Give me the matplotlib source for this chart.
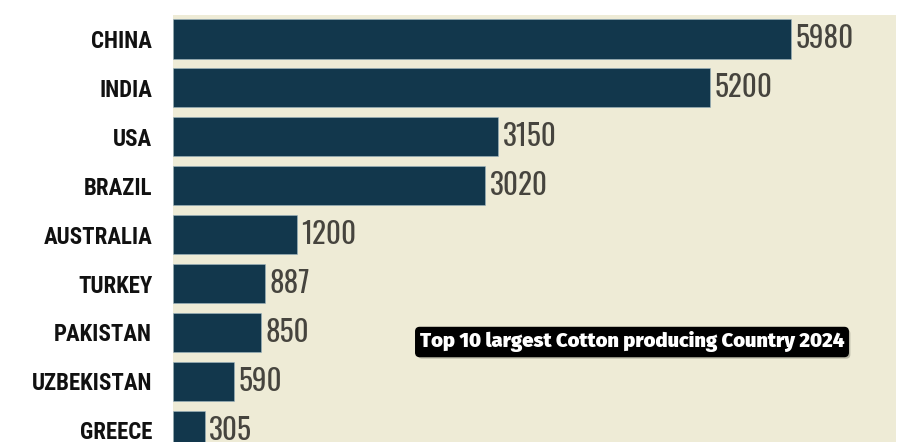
import matplotlib
matplotlib.use("Agg")
import matplotlib.pyplot as plt
from matplotlib import font_manager
import matplotlib.patheffects as pe

# data (10th country is cut off in the reference)
countries = ["CHINA", "INDIA", "USA", "BRAZIL", "AUSTRALIA", "TURKEY",
             "PAKISTAN", "UZBEKISTAN", "GREECE"]
production = [5980, 5200, 3150, 3020, 1200, 887, 850, 590, 305]
title = "Top 10 largest Cotton producing Country 2024"

bar_color = "#12374c"
bg_color = "#eeebd6"

names = {f.name for f in font_manager.fontManager.ttflist}


def pick(*fams):
    for f in fams:
        if f in names:
            return f
    return "DejaVu Sans"


label_font = pick("Roboto Condensed", "Archivo Narrow", "IBM Plex Sans Condensed", "Open Sans Condensed")
value_font = pick("Oswald", "Roboto Condensed", "IBM Plex Sans Condensed")
title_font = pick("Fira Sans", "Lato")

fig = plt.figure(figsize=(9, 4.42), dpi=100)
fig.patch.set_facecolor("white")
ax = fig.add_axes([173 / 900, 0, (896 - 173) / 900, (442 - 15) / 442])
ax.set_facecolor(bg_color)

ypos = list(range(len(countries)))
ax.barh(ypos, production, height=0.8, color=bar_color, edgecolor="#9fb7c2", linewidth=0.4)

for y, v in zip(ypos, production):
    ax.text(v + 45, y, str(v), va="center", ha="left", fontsize=21,
            family=value_font, color="#46443e", clip_on=False)

ax.set_xlim(0, 7000)
ax.set_ylim(8.24, -0.49)
ax.set_yticks(ypos)
ax.set_yticklabels(countries, fontsize=16.5, fontweight="bold", family=label_font, color="#111111")
ax.tick_params(axis="y", length=0, pad=15)
ax.set_xticks([])
for s in ax.spines.values():
    s.set_visible(False)

# black box title with a soft shadow on the box
t = fig.text(632 / 900, 1 - 342 / 442, title, ha="center", va="center",
             fontsize=14.5, fontweight=900, family=title_font, color="white",
             bbox=dict(boxstyle="round,pad=0.2,rounding_size=0.2", fc="black", ec="black"))
t.get_bbox_patch().set_path_effects([pe.SimplePatchShadow(offset=(1.5, -1.5), shadow_rgbFace="#b9b7a6", alpha=1),
                                     pe.Normal()])

fig.savefig("out.png", dpi=100, facecolor="white")
